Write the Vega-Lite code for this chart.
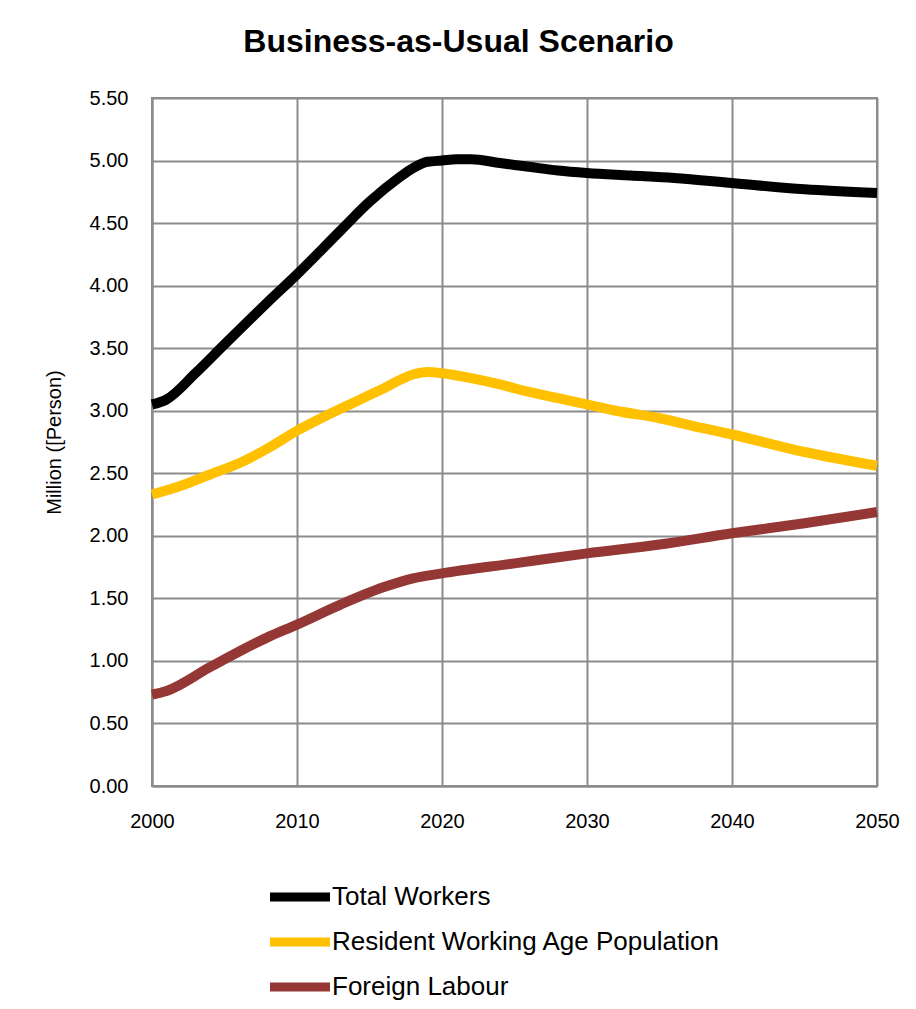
{
  "$schema": "https://vega.github.io/schema/vega-lite/v6.json",
  "width": 725,
  "height": 688,
  "autosize": "none",
  "padding": {"left": 152, "top": 98, "right": 39, "bottom": 223},
  "background": "white",
  "title": {
    "text": "Business-as-Usual Scenario",
    "font": "Liberation Sans",
    "fontSize": 32,
    "fontWeight": "bold",
    "color": "black",
    "anchor": "middle",
    "frame": "group",
    "dx": -56,
    "offset": 29
  },
  "data": {
    "values": [
      {"series": "Total Workers", "year": 2000, "value": 3.05},
      {"series": "Total Workers", "year": 2001, "value": 3.09},
      {"series": "Total Workers", "year": 2003, "value": 3.30},
      {"series": "Total Workers", "year": 2005, "value": 3.53},
      {"series": "Total Workers", "year": 2008, "value": 3.87},
      {"series": "Total Workers", "year": 2010, "value": 4.09},
      {"series": "Total Workers", "year": 2013, "value": 4.44},
      {"series": "Total Workers", "year": 2015, "value": 4.67},
      {"series": "Total Workers", "year": 2017, "value": 4.86},
      {"series": "Total Workers", "year": 2018, "value": 4.94},
      {"series": "Total Workers", "year": 2019, "value": 4.99},
      {"series": "Total Workers", "year": 2020, "value": 5.00},
      {"series": "Total Workers", "year": 2021, "value": 5.01},
      {"series": "Total Workers", "year": 2022, "value": 5.01},
      {"series": "Total Workers", "year": 2024, "value": 4.98},
      {"series": "Total Workers", "year": 2026, "value": 4.95},
      {"series": "Total Workers", "year": 2028, "value": 4.92},
      {"series": "Total Workers", "year": 2030, "value": 4.90},
      {"series": "Total Workers", "year": 2033, "value": 4.88},
      {"series": "Total Workers", "year": 2036, "value": 4.86},
      {"series": "Total Workers", "year": 2040, "value": 4.82},
      {"series": "Total Workers", "year": 2045, "value": 4.77},
      {"series": "Total Workers", "year": 2050, "value": 4.74},

      {"series": "Resident Working Age Population", "year": 2000, "value": 2.33},
      {"series": "Resident Working Age Population", "year": 2002, "value": 2.40},
      {"series": "Resident Working Age Population", "year": 2004, "value": 2.49},
      {"series": "Resident Working Age Population", "year": 2006, "value": 2.58},
      {"series": "Resident Working Age Population", "year": 2008, "value": 2.70},
      {"series": "Resident Working Age Population", "year": 2010, "value": 2.84},
      {"series": "Resident Working Age Population", "year": 2012, "value": 2.96},
      {"series": "Resident Working Age Population", "year": 2014, "value": 3.07},
      {"series": "Resident Working Age Population", "year": 2016, "value": 3.18},
      {"series": "Resident Working Age Population", "year": 2018, "value": 3.29},
      {"series": "Resident Working Age Population", "year": 2019, "value": 3.31},
      {"series": "Resident Working Age Population", "year": 2020, "value": 3.30},
      {"series": "Resident Working Age Population", "year": 2022, "value": 3.26},
      {"series": "Resident Working Age Population", "year": 2024, "value": 3.21},
      {"series": "Resident Working Age Population", "year": 2026, "value": 3.15},
      {"series": "Resident Working Age Population", "year": 2028, "value": 3.10},
      {"series": "Resident Working Age Population", "year": 2030, "value": 3.05},
      {"series": "Resident Working Age Population", "year": 2032, "value": 3.00},
      {"series": "Resident Working Age Population", "year": 2035, "value": 2.94},
      {"series": "Resident Working Age Population", "year": 2038, "value": 2.86},
      {"series": "Resident Working Age Population", "year": 2040, "value": 2.81},
      {"series": "Resident Working Age Population", "year": 2045, "value": 2.67},
      {"series": "Resident Working Age Population", "year": 2050, "value": 2.56},

      {"series": "Foreign Labour", "year": 2000, "value": 0.73},
      {"series": "Foreign Labour", "year": 2001, "value": 0.76},
      {"series": "Foreign Labour", "year": 2004, "value": 0.95},
      {"series": "Foreign Labour", "year": 2008, "value": 1.19},
      {"series": "Foreign Labour", "year": 2010, "value": 1.29},
      {"series": "Foreign Labour", "year": 2013, "value": 1.45},
      {"series": "Foreign Labour", "year": 2016, "value": 1.59},
      {"series": "Foreign Labour", "year": 2018, "value": 1.66},
      {"series": "Foreign Labour", "year": 2020, "value": 1.70},
      {"series": "Foreign Labour", "year": 2025, "value": 1.78},
      {"series": "Foreign Labour", "year": 2030, "value": 1.86},
      {"series": "Foreign Labour", "year": 2035, "value": 1.93},
      {"series": "Foreign Labour", "year": 2040, "value": 2.02},
      {"series": "Foreign Labour", "year": 2045, "value": 2.10},
      {"series": "Foreign Labour", "year": 2050, "value": 2.19}
    ]
  },
  "mark": {"type": "line", "strokeWidth": 10, "interpolate": "monotone", "clip": false},
  "encoding": {
    "x": {
      "field": "year",
      "type": "quantitative",
      "scale": {"domain": [2000, 2050], "nice": false, "zero": false},
      "axis": {
        "title": null,
        "values": [2000, 2010, 2020, 2030, 2040, 2050],
        "format": "d",
        "labelPadding": 25,
        "labelFlush": false,
        "labelOverlap": false
      }
    },
    "y": {
      "field": "value",
      "type": "quantitative",
      "scale": {"domain": [0, 5.5], "nice": false},
      "axis": {
        "title": "Million ([Person)",
        "values": [0, 0.5, 1, 1.5, 2, 2.5, 3, 3.5, 4, 4.5, 5, 5.5],
        "format": ".2f",
        "labelPadding": 24,
        "titlePadding": 25,
        "labelFlush": false,
        "labelOverlap": false
      }
    },
    "color": {
      "field": "series",
      "type": "nominal",
      "sort": ["Total Workers", "Resident Working Age Population", "Foreign Labour"],
      "scale": {
        "domain": ["Total Workers", "Resident Working Age Population", "Foreign Labour"],
        "range": ["#000000", "#FFC000", "#953735"]
      },
      "legend": {
        "title": null,
        "orient": "none",
        "legendX": 135,
        "legendY": 786,
        "direction": "vertical",
        "padding": 0,
        "symbolType": "M-6,0L6,0",
        "symbolSize": 100,
        "symbolStrokeWidth": 9,
        "labelOffset": 19,
        "labelFontSize": 26,
        "labelFont": "Liberation Sans",
        "labelColor": "black",
        "labelLimit": 600,
        "rowPadding": 9
      }
    }
  },
  "config": {
    "font": "Liberation Sans",
    "view": {"stroke": "#8c8c8c", "strokeWidth": 2},
    "axis": {
      "domainColor": "#8c8c8c",
      "domainWidth": 2,
      "gridColor": "#8c8c8c",
      "gridWidth": 2,
      "gridOpacity": 1,
      "ticks": false,
      "labelFont": "Liberation Sans",
      "labelFontSize": 20,
      "labelColor": "black",
      "titleFont": "Liberation Sans",
      "titleFontSize": 20,
      "titleFontWeight": "normal",
      "titleColor": "black"
    }
  }
}
